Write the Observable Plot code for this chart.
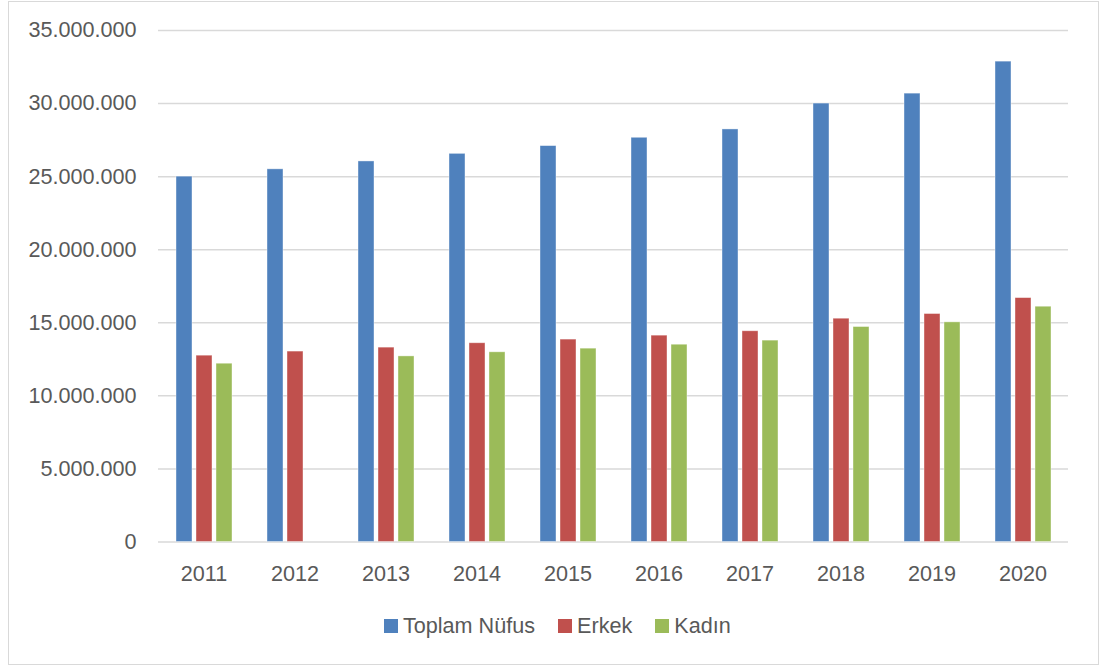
<!DOCTYPE html>
<html>
<head>
<meta charset="utf-8">
<script src="https://cdn.jsdelivr.net/npm/d3@7"></script>
<script src="https://cdn.jsdelivr.net/npm/@observablehq/plot@0.6"></script>
<style>
  html, body { margin: 0; padding: 0; background: #fff; }
  #wrap { position: relative; width: 1101px; height: 666px; overflow: hidden; font-family: "Liberation Sans", Arial, sans-serif; }
  #frame { position: absolute; left: 8px; top: 1px; width: 1091px; height: 664px; box-sizing: border-box; border: 1.5px solid #d9d9d9; }
  #chart { position: absolute; left: 0; top: 0; }
  #legend { position: absolute; left: 384px; top: 615px; display: flex; align-items: center; font-size: 21.6px; line-height: 21px; color: #595959; white-space: nowrap; }
  #legend .item { display: flex; align-items: center; margin-right: 23px; }
  #legend .sw { width: 14px; height: 14px; margin-right: 5px; display: inline-block; }
</style>
</head>
<body>
<div id="wrap">
  <div id="frame"></div>
  <div id="chart"></div>
  <div id="legend"></div>
</div>
<script>
const years = ["2011","2012","2013","2014","2015","2016","2017","2018","2019","2020"];
const seriesNames = ["Toplam Nüfus", "Erkek", "Kadın"];
const seriesColors = ["#4F81BD", "#C0504D", "#9BBB59"];
const toplam = [25000000, 25500000, 26040000, 26560000, 27090000, 27660000, 28230000, 30000000, 30680000, 32870000];
const erkek  = [12750000, 13030000, 13300000, 13600000, 13850000, 14120000, 14420000, 15280000, 15600000, 16690000];
const kadin  = [12200000, null,     12700000, 12980000, 13230000, 13500000, 13780000, 14710000, 15030000, 16100000];
const yTicks = [0, 5000000, 10000000, 15000000, 20000000, 25000000, 30000000, 35000000];

const rows = [];
years.forEach((yr, i) => {
  [toplam, erkek, kadin].forEach((arr, j) => {
    if (arr[i] != null) rows.push({year: yr, series: seriesNames[j], value: arr[i]});
  });
});

const trLocale = d3.formatLocale({decimal: ",", thousands: ".", grouping: [3], currency: ["", " ₺"]});
const fmt = trLocale.format(",d");

const chart = Plot.plot({
  width: 1101,
  height: 600,
  marginLeft: 157,
  marginRight: 32,
  marginTop: 30,
  marginBottom: 58.5,
  style: {fontFamily: "Liberation Sans, Arial, sans-serif", fontSize: "21.6px", color: "#595959", background: "transparent"},
  fx: {domain: years, padding: 0, label: null},
  x: {domain: seriesNames, paddingInner: 0.22, paddingOuter: 0.87, axis: null},
  y: {domain: [0, 35000000], label: null},
  color: {domain: seriesNames, range: seriesColors},
  marks: [
    Plot.gridY(yTicks, {stroke: "#d9d9d9", strokeOpacity: 1, strokeWidth: 1.5}),
    Plot.barY(rows, {fx: "year", x: "series", y: "value", fill: "series", stroke: "white", strokeOpacity: 0.5, strokeWidth: 0.8}),
    Plot.axisY(yTicks, {tickSize: 0, tickPadding: 22, tickFormat: fmt, label: null, fill: "#595959"}),
    Plot.axisFx({anchor: "bottom", tickSize: 0, tickPadding: 24, label: null, fill: "#595959"})
  ]
});
document.getElementById("chart").appendChild(chart);

const legend = document.getElementById("legend");
seriesNames.forEach((name, i) => {
  const item = document.createElement("div");
  item.className = "item";
  const sw = document.createElement("span");
  sw.className = "sw";
  sw.style.background = seriesColors[i];
  const t = document.createElement("span");
  t.textContent = name;
  item.appendChild(sw);
  item.appendChild(t);
  legend.appendChild(item);
});
</script>
</body>
</html>
